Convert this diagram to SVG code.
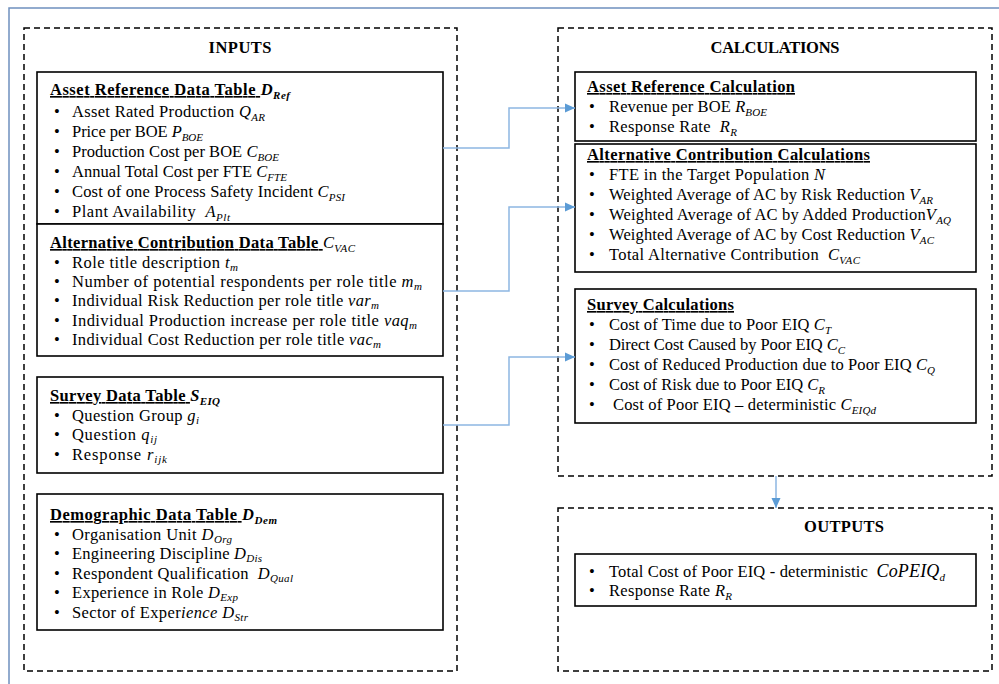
<svg xmlns="http://www.w3.org/2000/svg" width="999" height="684" viewBox="0 0 999 684">
<style>
text{font-family:"Liberation Serif","Times New Roman",serif;font-size:16.5px;fill:#000}
.title{font-weight:bold;font-size:16.5px;text-anchor:middle}
.h{font-weight:bold;text-decoration:underline}
.hm{font-weight:bold;font-style:italic}
.m{font-style:italic}
.sb{font-size:11px;font-style:italic}
.sbb{font-size:11px;font-style:italic;font-weight:bold}
.dash{fill:none;stroke:#000;stroke-width:1.5;stroke-dasharray:6 4}
.box{fill:#fff;stroke:#000;stroke-width:1.6}
.conn{fill:none;stroke:#8DB6E2;stroke-width:1.5}
</style>
<defs>
<marker id="arr" markerUnits="userSpaceOnUse" markerWidth="12" markerHeight="12" viewBox="0 0 12 12" refX="10" refY="6" orient="auto">
<path d="M0,1.5 L10,6 L0,10.5 Z" fill="#5B9BD5"/>
</marker>
</defs>
<rect width="999" height="684" fill="#fff"/>
<path d="M9,684 V8 H999" fill="none" stroke="#6F90BE" stroke-width="1.5"/>

<g id="inputs">
<rect class="dash" x="24" y="28" width="433" height="643"/>
<text class="title" x="240" y="53" textLength="63">INPUTS</text>
</g>
<g id="calculations">
<rect class="dash" x="558" y="28" width="434" height="448"/>
<text class="title" x="775" y="53" textLength="129">CALCULATIONS</text>
</g>
<g id="outputs">
<rect class="dash" x="558" y="508" width="434" height="163"/>
<text class="title" x="844" y="532" textLength="80">OUTPUTS</text>
</g>

<g id="asset-ref-data">
<rect class="box" x="37" y="72" width="406" height="152"/>
<text x="50" y="95" textLength="240"><tspan class="h">Asset Reference Data Table </tspan><tspan class="hm">D</tspan><tspan class="sbb" dy="3.5">Ref</tspan></text>
<text x="54" y="117">•</text><text x="72" y="117" textLength="193">Asset Rated Production <tspan class="m">Q</tspan><tspan class="sb" dy="3.5">AR</tspan></text>
<text x="54" y="137">•</text><text x="72" y="137" textLength="131">Price per BOE <tspan class="m">P</tspan><tspan class="sb" dy="3.5">BOE</tspan></text>
<text x="54" y="157">•</text><text x="72" y="157" textLength="207">Production Cost per BOE <tspan class="m">C</tspan><tspan class="sb" dy="3.5">BOE</tspan></text>
<text x="54" y="177">•</text><text x="72" y="177" textLength="215">Annual Total Cost per FTE <tspan class="m">C</tspan><tspan class="sb" dy="3.5">FTE</tspan></text>
<text x="54" y="197">•</text><text x="72" y="197" textLength="273">Cost of one Process Safety Incident <tspan class="m">C</tspan><tspan class="sb" dy="3.5">PSI</tspan></text>
<text x="54" y="217">•</text><text x="72" y="217" textLength="158" xml:space="preserve">Plant Availability  <tspan class="m">A</tspan><tspan class="sb" dy="3.5">Plt</tspan></text>
</g>

<g id="alt-contrib-data">
<rect class="box" x="37" y="224" width="406" height="132"/>
<text x="50" y="248" textLength="305"><tspan class="h">Alternative Contribution Data Table </tspan><tspan class="m">C</tspan><tspan class="sb" dy="3.5">VAC</tspan></text>
<text x="54" y="268">•</text><text x="72" y="268" textLength="166">Role title description <tspan class="m">t</tspan><tspan class="sb" dy="3">m</tspan></text>
<text x="54" y="287">•</text><text x="72" y="287" textLength="350">Number of potential respondents per role title <tspan class="m">m</tspan><tspan class="sb" dy="3">m</tspan></text>
<text x="54" y="306">•</text><text x="72" y="306" textLength="307">Individual Risk Reduction per role title <tspan class="m">var</tspan><tspan class="sb" dy="3">m</tspan></text>
<text x="54" y="326">•</text><text x="72" y="326" textLength="345">Individual Production increase per role title <tspan class="m">vaq</tspan><tspan class="sb" dy="3">m</tspan></text>
<text x="54" y="345">•</text><text x="72" y="345" textLength="309">Individual Cost Reduction per role title <tspan class="m">vac</tspan><tspan class="sb" dy="3">m</tspan></text>
</g>

<g id="survey-data">
<rect class="box" x="37" y="377" width="406" height="96"/>
<text x="50" y="401" textLength="170"><tspan class="h">Survey Data Table </tspan><tspan class="hm">S</tspan><tspan class="sbb" dy="3.5">EIQ</tspan></text>
<text x="54" y="421">•</text><text x="72" y="421" textLength="127">Question Group <tspan class="m">g</tspan><tspan class="sb" dy="3">i</tspan></text>
<text x="54" y="440">•</text><text x="72" y="440" textLength="85">Question <tspan class="m">q</tspan><tspan class="sb" dy="3">ij</tspan></text>
<text x="54" y="460">•</text><text x="72" y="460" textLength="95">Response <tspan class="m">r</tspan><tspan class="sb" dy="3">ijk</tspan></text>
</g>

<g id="demographic-data">
<rect class="box" x="37" y="494" width="406" height="136"/>
<text x="50" y="520" textLength="227"><tspan class="h">Demographic Data Table </tspan><tspan class="hm">D</tspan><tspan class="sbb" dy="3.5">Dem</tspan></text>
<text x="54" y="540">•</text><text x="72" y="540" textLength="160">Organisation Unit <tspan class="m">D</tspan><tspan class="sb" dy="3">Org</tspan></text>
<text x="54" y="559">•</text><text x="72" y="559" textLength="190">Engineering Discipline <tspan class="m">D</tspan><tspan class="sb" dy="3">Dis</tspan></text>
<text x="54" y="579">•</text><text x="72" y="579" textLength="221" xml:space="preserve">Respondent Qualification  <tspan class="m">D</tspan><tspan class="sb" dy="3">Qual</tspan></text>
<text x="54" y="598">•</text><text x="72" y="598" textLength="166">Experience in Role <tspan class="m">D</tspan><tspan class="sb" dy="3">Exp</tspan></text>
<text x="54" y="618">•</text><text x="72" y="618" textLength="176">Sector of Exper<tspan class="m">ience D</tspan><tspan class="sb" dy="3">Str</tspan></text>
</g>

<g id="asset-ref-calc">
<rect class="box" x="575" y="72" width="401" height="69"/>
<text x="587" y="92" textLength="208"><tspan class="h">Asset Reference Calculation</tspan></text>
<text x="589" y="112">•</text><text x="609" y="112" textLength="158">Revenue per BOE <tspan class="m">R</tspan><tspan class="sb" dy="3.5">BOE</tspan></text>
<text x="589" y="132">•</text><text x="609" y="132" textLength="128" xml:space="preserve">Response Rate  <tspan class="m">R</tspan><tspan class="sb" dy="3.5">R</tspan></text>
</g>

<g id="alt-contrib-calc">
<rect class="box" x="575" y="144" width="401" height="128"/>
<text x="587" y="160" textLength="283"><tspan class="h">Alternative Contribution Calculations</tspan></text>
<text x="589" y="180">•</text><text x="609" y="180" textLength="216">FTE in the Target Population <tspan class="m">N</tspan></text>
<text x="589" y="200">•</text><text x="609" y="200" textLength="324">Weighted Average of AC by Risk Reduction <tspan class="m">V</tspan><tspan class="sb" dy="3.5">AR</tspan></text>
<text x="589" y="220">•</text><text x="609" y="220" textLength="342">Weighted Average of AC by Added Production<tspan class="m">V</tspan><tspan class="sb" dy="3.5">AQ</tspan></text>
<text x="589" y="240">•</text><text x="609" y="240" textLength="325">Weighted Average of AC by Cost Reduction <tspan class="m">V</tspan><tspan class="sb" dy="3.5">AC</tspan></text>
<text x="589" y="260">•</text><text x="609" y="260" textLength="251" xml:space="preserve">Total Alternative Contribution  <tspan class="m">C</tspan><tspan class="sb" dy="3.5">VAC</tspan></text>
</g>

<g id="survey-calc">
<rect class="box" x="575" y="289" width="401" height="134"/>
<text x="587" y="310" textLength="147"><tspan class="h">Survey Calculations</tspan></text>
<text x="589" y="330">•</text><text x="609" y="330" textLength="222">Cost of Time due to Poor EIQ <tspan class="m">C</tspan><tspan class="sb" dy="3.5">T</tspan></text>
<text x="589" y="350">•</text><text x="609" y="350" textLength="236">Direct Cost Caused by Poor EIQ <tspan class="m">C</tspan><tspan class="sb" dy="3.5">C</tspan></text>
<text x="589" y="370">•</text><text x="609" y="370" textLength="326">Cost of Reduced Production due to Poor EIQ <tspan class="m">C</tspan><tspan class="sb" dy="3.5">Q</tspan></text>
<text x="589" y="390">•</text><text x="609" y="390" textLength="216">Cost of Risk due to Poor EIQ <tspan class="m">C</tspan><tspan class="sb" dy="3.5">R</tspan></text>
<text x="589" y="410">•</text><text x="613" y="410" textLength="263">Cost of Poor EIQ – deterministic <tspan class="m">C</tspan><tspan class="sb" dy="3.5">EIQd</tspan></text>
</g>

<g id="outputs-list">
<rect class="box" x="575" y="554" width="401" height="52"/>
<text x="589" y="577">•</text><text x="609" y="577" textLength="336" xml:space="preserve">Total Cost of Poor EIQ - deterministic  <tspan class="m" font-size="18">CoPEIQ</tspan><tspan class="sb" font-size="12" dy="3.5">d</tspan></text>
<text x="589" y="596">•</text><text x="609" y="596" textLength="123">Response Rate <tspan class="m">R</tspan><tspan class="sb" dy="3.5">R</tspan></text>
</g>

<g id="connectors">
<path class="conn" d="M443,148 H509 V108 H575" marker-end="url(#arr)"/>
<path class="conn" d="M443,291 H509 V207 H575" marker-end="url(#arr)"/>
<path class="conn" d="M443,425 H509 V357 H575" marker-end="url(#arr)"/>
<path class="conn" d="M776,476 V508" marker-end="url(#arr)"/>
</g>
</svg>
